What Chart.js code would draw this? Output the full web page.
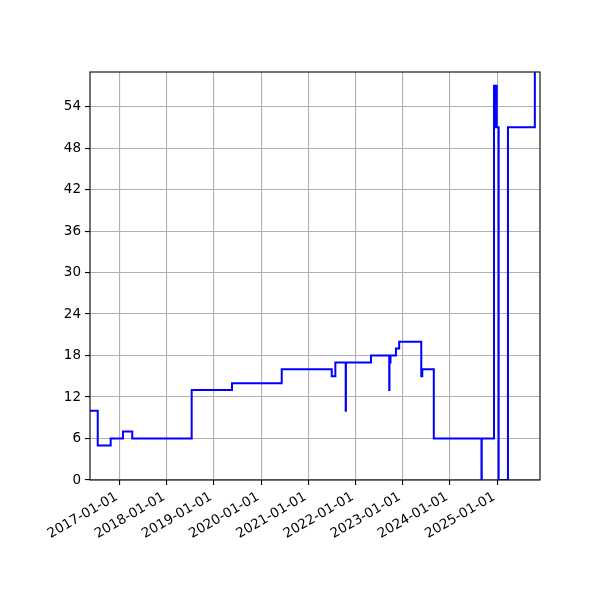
<!DOCTYPE html>
<html>
<head>
<meta charset="utf-8">
<script src="https://cdn.jsdelivr.net/npm/chart.js@4"></script>
<style>
  html, body { margin: 0; padding: 0; background: #fff; }
  #wrap { width: 600px; height: 600px; }
</style>
</head>
<body>
<div id="wrap"><canvas id="myChart" width="600" height="600"></canvas></div>
<script>
// step points: date where the value changes, and the new value
const dates = [
  '2016-05-16', '2016-07-15', '2016-10-23', '2017-01-26', '2017-04-08',
  '2018-07-12', '2019-05-20', '2020-06-08', '2021-06-30', '2021-07-28',
  '2021-10-16', '2021-10-18', '2022-04-30', '2022-09-18', '2022-09-20',
  '2022-09-26', '2022-09-28', '2022-11-09', '2022-12-04', '2023-05-24',
  '2023-06-01', '2023-08-29', '2024-09-01', '2024-09-03', '2024-12-07',
  '2024-12-10', '2024-12-13', '2024-12-16', '2024-12-19', '2024-12-22',
  '2024-12-25', '2024-12-28', '2025-01-01', '2025-01-12', '2025-03-25',
  '2025-10-19', '2025-11-28'
];
const values = [
  10, 5, 6, 7, 6,
  13, 14, 16, 15, 17,
  10, 17, 18, 13, 18,
  17, 18, 19, 20, 15,
  16, 6, 0, 6, 57,
  51, 57, 51, 57, 51,
  57, 51, 51, 0, 51,
  63, 63
];

const xTickLabels = ['2017-01-01', '2018-01-01', '2019-01-01', '2020-01-01', '2021-01-01',
                     '2022-01-01', '2023-01-01', '2024-01-01', '2025-01-01'];
const yTicks = [0, 6, 12, 18, 24, 30, 36, 42, 48, 54];
const xMin = '2016-05-16';
const xMax = '2025-11-28';
const yMax = 59;

const points = dates.map((d, i) => ({ x: Date.parse(d), y: values[i] }));
const xTickValues = xTickLabels.map(d => Date.parse(d));

// draws the black frame round the plot, like matplotlib spines
const frame = {
  id: 'frame',
  afterDraw(chart) {
    const a = chart.chartArea, c = chart.ctx;
    c.save();
    c.strokeStyle = '#000';
    c.lineWidth = 1.1;
    c.strokeRect(a.left, a.top, a.right - a.left, a.bottom - a.top);
    c.restore();
  }
};

const font = { family: 'DejaVu Sans', size: 13.5 };

new Chart(document.getElementById('myChart'), {
  type: 'line',
  data: {
    datasets: [{
      data: points,
      stepped: 'before',
      borderColor: '#0000ff',
      borderWidth: 2,
      pointRadius: 0,
      fill: false
    }]
  },
  options: {
    responsive: false,
    animation: false,
    layout: { padding: { left: 40, top: 72, right: 60, bottom: 60 } },
    plugins: { legend: { display: false }, tooltip: { enabled: false } },
    scales: {
      x: {
        type: 'linear',
        min: Date.parse(xMin),
        max: Date.parse(xMax),
        afterBuildTicks: s => { s.ticks = xTickValues.map(v => ({ value: v })); },
        afterFit: s => { s.height = 60; },
        ticks: {
          color: '#000',
          font: font,
          minRotation: 30,
          maxRotation: 30,
          padding: 4,
          labelOffset: -3,
          callback: (v, i) => xTickLabels[i]
        },
        grid: { color: '#b0b0b0', lineWidth: 1.1, tickColor: '#000', tickLength: 5 },
        border: { display: false }
      },
      y: {
        min: 0,
        max: yMax,
        afterBuildTicks: s => { s.ticks = yTicks.map(v => ({ value: v })); },
        afterFit: s => { s.width = 50; },
        ticks: { color: '#000', font: font, padding: 4 },
        grid: { color: '#b0b0b0', lineWidth: 1.1, tickColor: '#000', tickLength: 5 },
        border: { display: false }
      }
    }
  },
  plugins: [frame]
});
</script>
</body>
</html>
